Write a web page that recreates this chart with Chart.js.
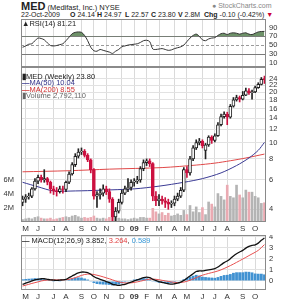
<!DOCTYPE html>
<html>
<head>
<meta charset="utf-8">
<script src="https://cdn.jsdelivr.net/npm/chart.js@4.4.1/dist/chart.umd.min.js"></script>
<style>
  body { margin: 0; background: #fff; width: 286px; height: 300px; overflow: hidden; position: relative; font-family: "Liberation Sans", Arial, sans-serif; }
  canvas { position: absolute; left: 0; }
  .t { position: absolute; white-space: nowrap; font-size: 7.5px; line-height: 8px; color: #222; }
  .h2 { font-size: 7px; }
</style>
</head>
<body>
<div class="t" style="left:21px;top:1px;font-size:7.5px;line-height:11px"><b style="font-size:11px">MED</b> (Medifast, Inc.) NYSE</div>
<div class="t" style="left:212px;top:2px;color:#888;font-size:7px">&#9679; StockCharts.com</div>
<div class="t h2" style="left:21px;top:11px">22-Oct-2009</div>
<div class="t h2" style="left:70px;top:11px"><b>O</b> 24.14</div>
<div class="t h2" style="left:97px;top:11px"><b>H</b> 24.97</div>
<div class="t h2" style="left:125px;top:11px"><b>L</b> 22.57</div>
<div class="t h2" style="left:151px;top:11px"><b>C</b> 23.80</div>
<div class="t h2" style="left:178px;top:11px"><b>V</b> 2.8M</div>
<div class="t h2" style="left:204px;top:11px"><b>Chg</b> -0.10 (-0.42%) <span style="color:#c03">&#9660;</span></div>

<canvas id="rsiChart" width="286" height="48" style="top:19px"></canvas>
<canvas id="mainChart" width="286" height="165" style="top:67px"></canvas>
<canvas id="macdChart" width="286" height="65" style="top:235px"></canvas>

<div class="t" style="left:22px;top:20px"><b>&#9650;</b>RSI(14) 81.21</div>
<div class="t" style="left:22px;top:73px"><b>&#9646;</b>MED (Weekly) 23.80</div>
<div class="t" style="left:22px;top:79px;color:#33338a"><b>&#8212;</b>MA(50) 10.04</div>
<div class="t" style="left:22px;top:86px;color:#d03030"><b>&#8212;</b>MA(200) 8.55</div>
<div class="t" style="left:22px;top:92px;color:#666">&#9646;Volume 2,792,110</div>
<div class="t" style="left:22px;top:237px"><b>&#8212;</b> MACD(12,26,9) 3.852, <span style="color:#e04040">3.264</span>, <span style="color:#3a9ad9">0.589</span></div>

<script>
// weekly bars, 21-Apr-2008 .. 19-Oct-2009
const opens  = [4.4,4.6,4.75,4.8,5.3,5.9,6.2,6.0,6.1,5.8,5.3,5.15,5.1,5.3,5.25,5.8,6.5,7.4,8.3,8.8,8.9,8.4,7.9,6.9,4.8,4.9,5.0,5.3,5.1,4.6,3.6,3.9,4.4,5.0,5.3,5.4,5.8,5.9,6.0,7.0,7.6,7.8,7.5,4.8,4.5,4.6,4.5,4.4,4.3,4.35,4.6,4.8,5.2,6.9,6.6,8.0,9.3,10.0,10.2,9.0,9.7,10.8,10.3,11.0,12.8,14.3,14.8,14.2,16.5,18.0,18.6,18.2,19.2,20.4,19.9,20.1,21.3,22.3,24.14];
const highs  = [4.8,4.9,5.0,5.4,6.1,6.4,6.4,6.9,6.2,5.9,5.5,5.4,5.5,5.5,5.9,6.7,7.6,8.6,9.2,9.3,9.1,8.6,8.0,7.0,5.1,5.3,5.6,5.5,5.3,4.7,4.1,4.6,5.2,5.5,6.1,6.0,6.1,6.3,7.2,7.9,8.0,8.0,7.6,5.1,4.9,4.8,4.7,4.6,4.5,4.8,5.0,5.4,7.1,7.2,8.3,9.6,10.4,10.6,10.4,9.9,11.0,11.0,11.3,13.2,14.8,15.3,15.2,16.9,18.6,19.2,19.0,20.2,21.2,21.0,20.6,21.8,22.8,24.5,24.97];
const lows   = [4.2,4.4,4.6,4.7,5.2,5.7,5.8,5.8,5.6,5.0,4.9,4.8,5.0,5.0,5.1,5.7,6.4,7.2,8.1,8.5,8.2,7.7,6.6,4.6,4.1,4.6,4.8,4.9,4.4,3.3,3.4,3.8,4.3,4.9,5.1,5.2,5.5,5.7,5.8,6.8,7.3,7.2,4.5,4.2,4.2,4.3,4.1,4.0,4.1,4.2,4.5,4.7,5.1,6.2,6.4,7.8,9.1,9.7,9.3,8.0,9.5,9.9,10.1,10.9,12.6,14.0,12.8,14.0,16.3,17.7,17.5,18.0,19.1,19.4,18.2,19.9,21.1,22.1,22.57];
const closes = [4.6,4.75,4.8,5.3,5.9,6.2,6.0,6.1,5.8,5.3,5.15,5.1,5.3,5.25,5.8,6.5,7.4,8.3,8.8,8.9,8.4,7.9,6.9,4.8,4.9,5.0,5.3,5.1,4.6,3.6,3.9,4.4,5.0,5.3,5.4,5.8,5.9,6.0,7.0,7.6,7.8,7.5,4.8,4.5,4.6,4.5,4.4,4.3,4.35,4.6,4.8,5.2,6.9,6.6,8.0,9.3,10.0,10.2,9.6,9.7,10.8,10.3,11.0,12.8,14.3,14.8,14.2,16.5,18.0,18.6,18.2,19.2,20.4,19.9,20.1,21.3,22.3,23.9,23.8];
// volume in millions
const volumes = [0.4,0.5,0.6,0.5,0.7,0.8,0.6,0.5,0.5,0.6,0.4,0.5,0.6,0.7,0.8,0.7,0.9,1.0,0.8,0.6,0.7,0.6,0.7,0.9,0.6,0.5,0.6,0.5,0.7,1.1,1.0,0.6,0.5,0.5,0.4,0.5,0.6,0.5,0.7,0.7,0.6,0.6,2.0,1.5,1.2,1.4,1.0,1.3,0.9,1.0,1.2,1.0,1.7,1.1,2.4,1.5,2.2,1.4,2.1,1.1,2.9,2.6,2.2,4.1,3.7,3.2,5.3,3.7,3.5,5.3,3.9,3.5,4.6,4.3,4.3,3.7,3.5,2.7,2.79];
const rsi = [45,48,52,53,60,66,65,62,55,49,48,49,51,53,60,68,76,79,80,79,72,60,45,37,36,40,38,36,34,31,36,40,46,48,50,51,52,53,56,60,61,58,41,40,41,42,40,38,39,42,44,46,50,58,66,72,75,70,62,60,64,66,67,72,76,77,74,77,78,77,75,77,78,75,74,77,80,81,81.21];
const macd = [-0.3,-0.2,-0.1,0.0,0.1,0.15,0.2,0.2,0.15,0.1,0.08,0.05,0.08,0.1,0.15,0.3,0.45,0.6,0.72,0.8,0.8,0.75,0.6,0.4,0.25,0.15,0.05,-0.05,-0.15,-0.3,-0.35,-0.4,-0.35,-0.3,-0.2,-0.1,0.0,0.1,0.2,0.3,0.35,0.3,0.15,0.05,-0.05,-0.12,-0.2,-0.25,-0.28,-0.25,-0.2,-0.1,0.05,0.25,0.45,0.65,0.85,0.9,0.9,0.95,1.0,1.05,1.1,1.25,1.45,1.65,1.8,2.0,2.25,2.45,2.6,2.75,2.95,3.1,3.2,3.25,3.4,3.65,3.852];
const signal = [-0.45,-0.38,-0.3,-0.22,-0.15,-0.08,0.0,0.05,0.08,0.1,0.1,0.1,0.1,0.1,0.12,0.15,0.22,0.3,0.4,0.5,0.58,0.62,0.62,0.58,0.52,0.45,0.37,0.28,0.2,0.1,0.0,-0.08,-0.14,-0.18,-0.18,-0.17,-0.13,-0.08,-0.02,0.05,0.12,0.16,0.17,0.15,0.11,0.06,0.01,-0.04,-0.09,-0.12,-0.14,-0.13,-0.1,-0.03,0.07,0.18,0.3,0.42,0.52,0.6,0.68,0.75,0.82,0.9,1.0,1.12,1.25,1.38,1.52,1.67,1.82,1.97,2.12,2.28,2.43,2.58,2.75,3.0,3.264];
const hist = [0.15,0.18,0.2,0.22,0.25,0.23,0.2,0.15,0.07,0.0,-0.02,-0.05,-0.02,0.0,0.03,0.15,0.23,0.3,0.32,0.3,0.22,0.13,-0.02,-0.18,-0.27,-0.3,-0.32,-0.33,-0.35,-0.4,-0.35,-0.32,-0.21,-0.12,-0.02,0.07,0.13,0.18,0.22,0.25,0.23,0.14,-0.02,-0.1,-0.16,-0.18,-0.21,-0.21,-0.19,-0.13,-0.06,0.03,0.15,0.28,0.38,0.47,0.55,0.48,0.38,0.35,0.32,0.3,0.28,0.35,0.45,0.53,0.55,0.62,0.73,0.78,0.78,0.78,0.83,0.82,0.77,0.67,0.65,0.65,0.589];
// moving averages read at a few weeks; the line is drawn through them
const ma50Weeks  = [0,5,10,17,25,36,44,52,58,64,69,73,76,78];
const ma50Values = [5.8,5.45,5.15,5.15,5.2,5.3,5.5,5.8,6.1,6.6,7.3,8.1,9.0,10.04];
const ma200Weeks  = [0,15,28,45,56,62,67,72,78];
const ma200Values = [6.7,6.8,6.95,7.1,7.35,7.55,7.8,8.1,8.55];
// axis labels
const monthWeeks = [1,5,10,14,19,23,27,32,36,40,44,49,53,58,62,66,71,75];
const monthNames = ['M','J','J','A','S','O','N','D','09','F','M','A','M','J','J','A','S','O'];
const priceTicks = [4,6,8,10,12,14,16,18,20,22,24];
const volumeTicks = [2,4,6];
const rsiTicks = [10,30,50,70,90];
const macdTicks = [0,1,2,3,4];

const labels = closes.map((c, i) => {
    const k = monthWeeks.indexOf(i);
    return k >= 0 ? monthNames[k] : '';
});
const sparse = (weeks, values) => closes.map((c, i) => {
    const k = weeks.indexOf(i);
    return k >= 0 ? values[k] : null;
});

const RED = '#cc1140';
const INK = '#222222';
const isUp = closes.map((c, i) => i === 0 ? c >= opens[i] : c >= closes[i - 1]);
const candleColor = isUp.map(u => u ? INK : RED);

const tickFont = { family: 'Liberation Sans', size: 7.5 };

// frame + reference lines
const framePlugin = {
    id: 'frame',
    beforeDatasetsDraw(chart, args, opts) {
        const { ctx, chartArea: a } = chart;
        (opts.lines || []).forEach(l => {
            const y = Math.round(chart.scales.y.getPixelForValue(l.value)) + 0.5;
            ctx.save();
            ctx.strokeStyle = l.color;
            ctx.lineWidth = 1;
            ctx.setLineDash(l.dash || []);
            ctx.beginPath();
            ctx.moveTo(a.left, y);
            ctx.lineTo(a.right, y);
            ctx.stroke();
            ctx.restore();
        });
    },
    afterDraw(chart) {
        const { ctx, chartArea: a } = chart;
        ctx.save();
        ctx.strokeStyle = '#8a8a8a';
        ctx.lineWidth = 1;
        ctx.strokeRect(a.left + 0.5, a.top + 0.5, a.width - 1, a.height - 1);
        ctx.restore();
    }
};
Chart.register(framePlugin);

function xAxis(showLabels) {
    return {
        type: 'category',
        offset: true,
        grid: {
            offset: false,
            drawTicks: false,
            color: c => monthWeeks.includes(c.index) ? '#dadada' : 'rgba(0,0,0,0)'
        },
        border: { display: false },
        ticks: {
            display: showLabels,
            autoSkip: false,
            maxRotation: 0,
            padding: 2,
            color: '#333',
            font: c => ({ family: 'Liberation Sans', size: 8, weight: labels[c.index] === '09' ? 'bold' : 'normal' }),
            callback: (v, i) => labels[i]
        },
        afterFit: s => { s.height = showLabels ? 10 : 0; s.paddingLeft = 0; s.paddingRight = 0; }
    };
}

function yAxis(extra, ticks) {
    return Object.assign({
        position: 'right',
        border: { display: false },
        grid: { drawTicks: false, color: '#e2e2e2' },
        ticks: { font: tickFont, color: '#333', padding: 3, autoSkip: false, callback: v => v },
        afterBuildTicks: s => { s.ticks = ticks.map(v => ({ value: v })); },
        afterFit: s => { s.width = 20; s.paddingTop = 0; s.paddingBottom = 0; }
    }, extra);
}

const common = {
    responsive: false,
    animation: false,
    devicePixelRatio: 1,
    plugins: { legend: { display: false }, tooltip: { enabled: false } }
};

// RSI panel
new Chart(document.getElementById('rsiChart'), {
    type: 'line',
    data: {
        labels: labels,
        datasets: [{
            data: rsi,
            borderColor: '#333',
            borderWidth: 1,
            pointRadius: 0,
            tension: 0.3,
            fill: { target: { value: 70 }, above: '#6d9168', below: 'rgba(0,0,0,0)' }
        }]
    },
    options: Object.assign({}, common, {
        layout: { padding: { left: 21, top: 0, bottom: 0, right: 0 } },
        scales: {
            x: xAxis(false),
            y: yAxis({ min: 0, max: 109.5, grid: { drawTicks: false, display: false } }, rsiTicks)
        },
        plugins: Object.assign({}, common.plugins, {
            frame: { lines: [
                { value: 70, color: '#7a7a7a' },
                { value: 50, color: '#9a9a9a', dash: [3, 2] },
                { value: 30, color: '#7a7a7a' }
            ] }
        })
    })
});

// price + volume panel
new Chart(document.getElementById('mainChart'), {
    type: 'bar',
    data: {
        labels: labels,
        datasets: [
            {
                type: 'bar',
                yAxisID: 'yv',
                data: volumes,
                backgroundColor: isUp.map(u => u ? '#b4b4b4' : '#eaaab2'),
                barPercentage: 1,
                categoryPercentage: 0.85,
                grouped: false,
                order: 10
            },
            {
                type: 'line',
                yAxisID: 'y',
                data: sparse(ma200Weeks, ma200Values),
                borderColor: '#e04848',
                borderWidth: 1,
                pointRadius: 0,
                spanGaps: true,
                tension: 0.3,
                order: 6
            },
            {
                type: 'line',
                yAxisID: 'y',
                data: sparse(ma50Weeks, ma50Values),
                borderColor: '#3a3a94',
                borderWidth: 1,
                pointRadius: 0,
                spanGaps: true,
                tension: 0.3,
                order: 5
            },
            {
                type: 'bar',
                yAxisID: 'y',
                data: lows.map((l, i) => [l, highs[i]]),
                backgroundColor: candleColor,
                barThickness: 1,
                grouped: false,
                order: 2
            },
            {
                type: 'bar',
                yAxisID: 'y',
                data: opens.map((o, i) => [o, closes[i]]),
                backgroundColor: closes.map((c, i) => c >= opens[i] ? '#ffffff' : candleColor[i]),
                borderColor: candleColor,
                borderWidth: 1,
                borderSkipped: false,
                barThickness: 3,
                grouped: false,
                order: 1
            }
        ]
    },
    options: Object.assign({}, common, {
        layout: { padding: 0 },
        scales: {
            x: xAxis(true),
            y: yAxis({ type: 'logarithmic', min: 3.36, max: 28.3 }, priceTicks),
            yv: {
                position: 'left',
                min: 0,
                max: 22.1,
                border: { display: false },
                grid: { display: false, drawTicks: false },
                ticks: { font: tickFont, color: '#333', padding: 7, callback: v => v + 'M' },
                afterBuildTicks: s => { s.ticks = volumeTicks.map(v => ({ value: v })); },
                afterFit: s => { s.width = 21; s.paddingTop = 0; s.paddingBottom = 0; }
            }
        }
    })
});

// MACD panel
new Chart(document.getElementById('macdChart'), {
    type: 'bar',
    data: {
        labels: labels,
        datasets: [
            {
                type: 'bar',
                data: hist,
                backgroundColor: '#4192d2',
                borderColor: '#2a6eaa',
                borderWidth: 0,
                barPercentage: 1,
                categoryPercentage: 0.9,
                order: 3
            },
            {
                type: 'line',
                data: signal,
                borderColor: '#e85050',
                borderWidth: 1,
                pointRadius: 0,
                tension: 0.3,
                order: 2
            },
            {
                type: 'line',
                data: macd,
                borderColor: '#111',
                borderWidth: 1.3,
                pointRadius: 0,
                tension: 0.3,
                order: 1
            }
        ]
    },
    options: Object.assign({}, common, {
        layout: { padding: { left: 21, top: 0, bottom: 0, right: 0 } },
        scales: {
            x: xAxis(true),
            y: yAxis({ min: -0.81, max: 4.13 }, macdTicks)
        }
    })
});
</script>
</body>
</html>
